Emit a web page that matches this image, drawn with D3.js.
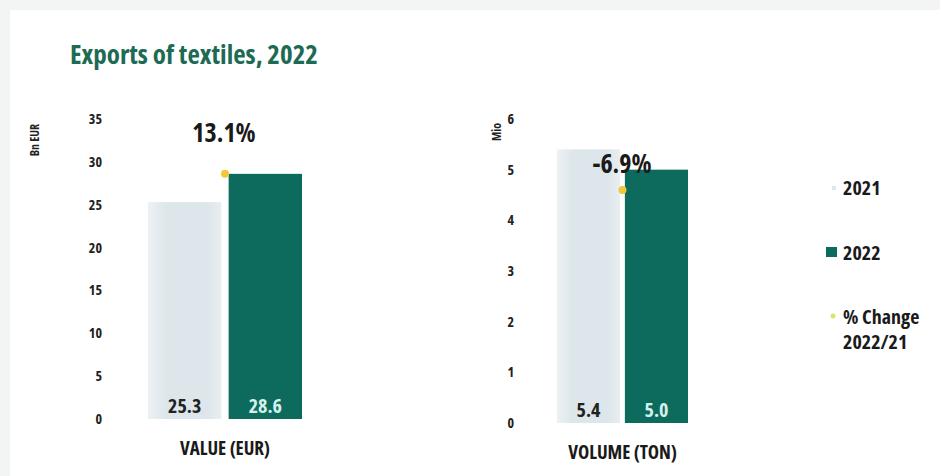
<!DOCTYPE html>
<html lang="en">
<head>
  <meta charset="UTF-8">
  <title>Exports of textiles, 2022</title>
  <script src="https://cdn.jsdelivr.net/npm/d3@7"></script>
  <style>
    body { margin: 0; background: #f3f4f4; }
    svg { display: block; }
    text { font-family: "Open Sans", sans-serif; font-weight: bold; font-stretch: 75%; }
  </style>
</head>
<body>
  <svg id="chart" width="940" height="476"></svg>
  <script>
    // data
    var years = ["2021", "2022"]
    var valueEur = [25.3, 28.6]      // Bn EUR
    var volumeTon = [5.4, 5.0]       // Mio
    var pctChange = [13.1, -6.9]     // % change 2022/21 (value, volume)
    var changeDotLevel = [28.6, 4.6] // where the % change marker sits on each panel's axis
    var valueTicks = [0, 5, 10, 15, 20, 25, 30, 35]
    var volumeTicks = [0, 1, 2, 3, 4, 5, 6]

    var colors = { "2021": "#dfe7eb", "2022": "#0d6b5e" }
    var dotColor = "#f2c83a"

    var svg = d3.select("#chart")

    var defs = svg.append("defs")
    var grad = defs.append("linearGradient").attr("id", "lightBar")
    grad.append("stop").attr("offset", "0%").attr("stop-color", "#edf1f3")
    grad.append("stop").attr("offset", "25%").attr("stop-color", "#dde6ea")
    grad.append("stop").attr("offset", "80%").attr("stop-color", "#dde6ea")
    grad.append("stop").attr("offset", "100%").attr("stop-color", "#e9eef0")

    // white card
    svg.append("rect")
      .attr("x", 10).attr("y", 10)
      .attr("width", 930).attr("height", 466)
      .attr("fill", "#ffffff")

    svg.append("text")
      .attr("x", 70).attr("y", 64)
      .style("font-size", "27px")
      .style("fill", "#1d6a55")
      .text("Exports of textiles, 2022")

    function panel(opts) {
      var y = d3.scaleLinear().domain([0, opts.max]).range([opts.bottom, opts.top])
      var x = d3.scaleBand().domain(years).range([opts.left, opts.right]).paddingInner(opts.gap)

      // axis, labels only
      var ax = svg.append("g")
        .attr("transform", "translate(" + opts.axisX + ",0)")
        .call(d3.axisLeft(y).tickValues(opts.ticks).tickFormat(d3.format("d")).tickSize(0).tickPadding(0))
      ax.select(".domain").remove()
      ax.selectAll("text")
        .style("font-size", "14px")
        .style("fill", "#222")
        .style("font-family", "'Open Sans', sans-serif")
        .style("font-weight", "bold")
        .style("font-stretch", "75%")

      svg.append("text")
        .attr("transform", "translate(" + opts.unitX + "," + opts.unitY + ")rotate(-90)")
        .attr("text-anchor", "middle")
        .style("font-size", "12px")
        .style("fill", "#222")
        .text(opts.unit)

      svg.append("g")
        .selectAll("rect")
        .data(opts.values)
        .enter()
        .append("rect")
        .attr("x", function (d, i) { return x(years[i]) })
        .attr("y", function (d) { return y(d) })
        .attr("width", x.bandwidth())
        .attr("height", function (d) { return opts.bottom - y(d) })
        .attr("fill", function (d, i) { return i == 0 ? "url(#lightBar)" : colors[years[i]] })

      svg.append("g")
        .selectAll("text")
        .data(opts.values)
        .enter()
        .append("text")
        .attr("x", function (d, i) { return x(years[i]) + x.bandwidth() / 2 })
        .attr("y", opts.bottom - 6)
        .attr("text-anchor", "middle")
        .style("font-size", "20px")
        .style("fill", function (d, i) { return i == 0 ? "#222" : "#d4f0ec" })
        .text(function (d) { return d.toFixed(1) })

      // % change marker and label
      var midX = x(years[1]) - (x.step() - x.bandwidth()) / 2
      svg.append("circle")
        .attr("cx", midX)
        .attr("cy", y(opts.dotLevel))
        .attr("r", 4)
        .attr("fill", dotColor)

      svg.append("text")
        .attr("x", opts.pctX)
        .attr("y", opts.pctY)
        .attr("text-anchor", "middle")
        .style("font-size", "26px")
        .style("fill", "#1a1a1a")
        .text(opts.pct.toFixed(1) + "%")

      svg.append("text")
        .attr("x", (opts.left + opts.right) / 2)
        .attr("y", opts.bottom + 36)
        .attr("text-anchor", "middle")
        .style("font-size", "19px")
        .style("fill", "#1a1a1a")
        .text(opts.title)
    }

    panel({
      values: valueEur, ticks: valueTicks, max: 35,
      top: 119, bottom: 419, left: 148, right: 302, gap: 0.09,
      axisX: 102, unit: "Bn EUR", unitX: 39, unitY: 140,
      pct: pctChange[0], dotLevel: changeDotLevel[0], pctX: 224, pctY: 142,
      title: "VALUE (EUR)"
    })

    panel({
      values: volumeTon, ticks: volumeTicks, max: 6,
      top: 119, bottom: 423, left: 557, right: 688, gap: 0.07,
      axisX: 514, unit: "Mio", unitX: 501, unitY: 132,
      pct: pctChange[1], dotLevel: changeDotLevel[1], pctX: 622, pctY: 173,
      title: "VOLUME (TON)"
    })

    // legend
    var legend = svg.append("g").attr("transform", "translate(843,0)")
    legend.append("rect").attr("x", -11).attr("y", 186).attr("width", 4).attr("height", 4).attr("fill", colors["2021"])
    legend.append("text").attr("x", 0).attr("y", 195).style("font-size", "20px").style("fill", "#1a1a1a").text("2021")
    legend.append("rect").attr("x", -17).attr("y", 247).attr("width", 11).attr("height", 10).attr("fill", colors["2022"])
    legend.append("text").attr("x", 0).attr("y", 260).style("font-size", "20px").style("fill", "#1a1a1a").text("2022")
    legend.append("circle").attr("cx", -10).attr("cy", 316).attr("r", 2.5).attr("fill", "#d9e66a")
    legend.append("text").attr("x", 0).attr("y", 324).style("font-size", "20px").style("fill", "#1a1a1a").text("% Change")
    legend.append("text").attr("x", 0).attr("y", 349).style("font-size", "20px").style("fill", "#1a1a1a").text("2022/21")
  </script>
</body>
</html>
